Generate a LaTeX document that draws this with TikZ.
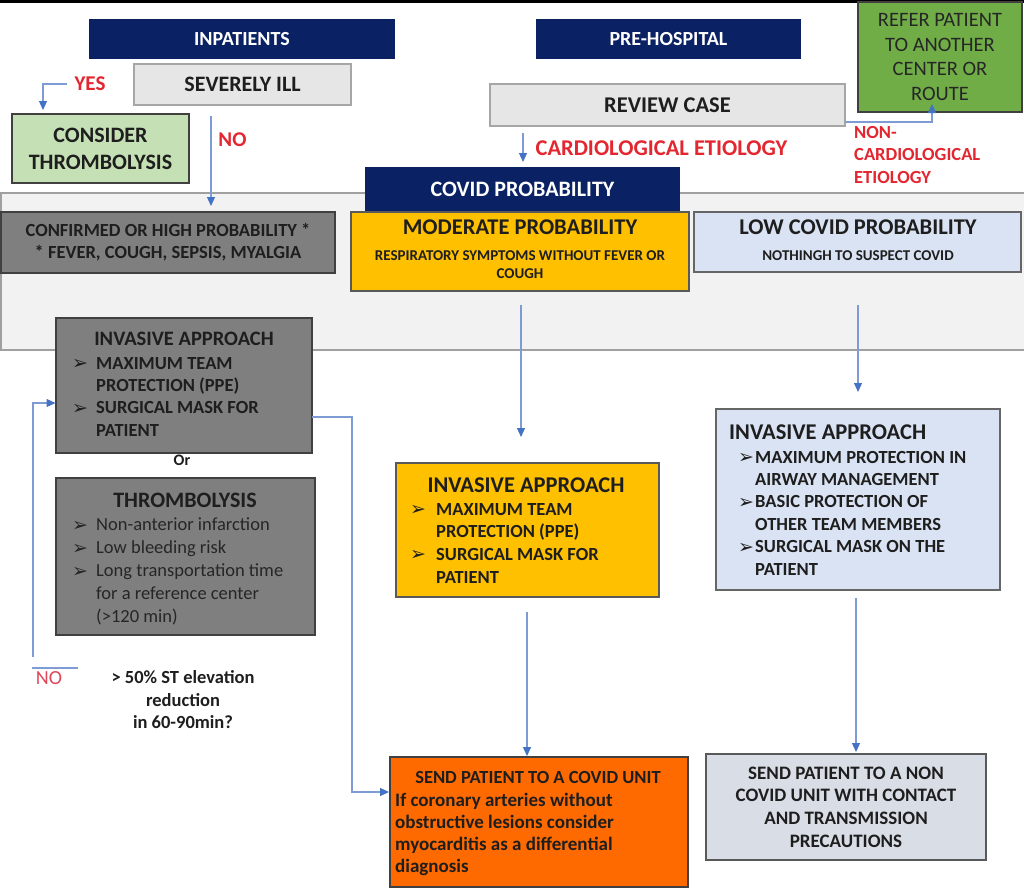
\documentclass[tikz,border=0pt]{standalone}
\usepackage{fontspec}
\setmainfont{Carlito}
\newfontfamily\dejavu{DejaVu Sans}
\usetikzlibrary{arrows.meta}
\definecolor{navy}{HTML}{0A2263}
\definecolor{lgray}{HTML}{E7E6E6}
\definecolor{lgrayb}{HTML}{A6A6A6}
\definecolor{lgreen}{HTML}{C5E0B4}
\definecolor{dgreen}{HTML}{70AD47}
\definecolor{mgray}{HTML}{7F7F7F}
\definecolor{gold}{HTML}{FFC000}
\definecolor{lblue}{HTML}{DAE3F3}
\definecolor{orng}{HTML}{FF6A00}
\definecolor{bgray}{HTML}{D9DDE6}
\definecolor{bandc}{HTML}{F2F2F2}
\definecolor{bandb}{HTML}{A0A0A0}
\definecolor{connc}{HTML}{7F9BD3}
\definecolor{arrc}{HTML}{4472C4}
\definecolor{redtxt}{HTML}{E3262F}
\definecolor{redl}{HTML}{E0475A}
\definecolor{bordr}{HTML}{404040}
\definecolor{txt}{HTML}{1E1E1E}
\newcommand\fs[2]{\fontsize{#1}{#2}\selectfont}
\newcommand\bul{{\dejavu\fontsize{19}{19}\selectfont\raisebox{-0.5pt}{➢}}}
\begin{document}
\begin{tikzpicture}[x=1pt,y=-1pt,
  wh/.style 2 args={minimum width=#1pt, minimum height=#2pt},
  box/.style={draw=bordr, line width=1.1pt, inner sep=0pt, text=txt, align=center},
  navybox/.style={box, fill=navy, draw=navy, text=white},
  ttl/.style={inner sep=0pt, text=txt},
  lst/.style={anchor=base west, inner sep=0pt, text=txt},
  redlab/.style={inner sep=0pt, text=redtxt},
  conn/.style={draw=connc, line width=1.1pt},
  arr/.style={conn, -{Triangle[length=9pt,width=8pt,color=arrc]}}
]
\useasboundingbox (0,0) rectangle (1024,894);
\fill[white] (0,0) rectangle (1024,894);
\draw[line width=2.5pt] (0,1.25) -- (1024,1.25);

% band
\draw[fill=bandc, draw=bandb, line width=1.1pt] (1,193) rectangle (1026,350);

% top area
\node[navybox, wh={304}{38}, font=\fs{20}{24}\bfseries] (inp) at (242,39) {INPATIENTS};
\node[box, fill=lgray, draw=lgrayb, wh={217}{41}, font=\fs{22}{26}\bfseries] (sev) at (242.5,84.5) {SEVERELY ILL};
\node[box, fill=lgreen, wh={177}{69}, font=\fs{22}{27}\bfseries] (cons) at (100.5,148.5) {CONSIDER\\THROMBOLYSIS};
\node[navybox, wh={263}{38}, font=\fs{20}{24}\bfseries] (pre) at (668.5,39) {PRE-HOSPITAL};
\node[box, fill=lgray, draw=lgrayb, wh={355}{42}, font=\fs{22.5}{27}\bfseries] (rev) at (667.5,105) {REVIEW CASE};
\node[box, fill=dgreen, wh={164}{110}, font=\fs{20.5}{24.7}, text=black!85] (refer) at (940,57) {REFER PATIENT\\TO ANOTHER\\CENTER OR\\ROUTE};
\node[navybox, wh={313}{42}, font=\fs{22}{26}\bfseries] (cov) at (522.5,189) {COVID PROBABILITY};

% labels
\node[redlab, font=\fs{21}{25}\bfseries] (yes) at (90,83.5) {YES};
\node[redlab, font=\fs{21}{25}\bfseries] (no1) at (232.5,140) {NO};
\node[redlab, font=\fs{22.5}{26}\bfseries] (card) at (661.5,148.5) {CARDIOLOGICAL ETIOLOGY};
\node[redlab, anchor=base west, font=\fs{18.5}{22.3}\bfseries] (noncard) at (854,138.5)
  {\begin{tabular}[t]{@{}l@{}}NON-\\CARDIOLOGICAL\\ETIOLOGY\end{tabular}};

% probability row
\node[box, fill=mgray, wh={334}{61}, font=\fs{18.5}{22}\bfseries] (conf) at (168,242.5)
  {CONFIRMED OR HIGH PROBABILITY *\\* FEVER, COUGH, SEPSIS, MYALGIA};
\node[box, fill=gold, draw=black!65, wh={338}{79}] (mod) at (520,251.5) {};
\node[ttl, font=\fs{22.5}{26}\bfseries] (modt) at (520,227) {MODERATE PROBABILITY};
\node[ttl, font=\fs{15}{18}\bfseries, align=center] (mods) at (520,265)
  {RESPIRATORY SYMPTOMS WITHOUT FEVER OR\\COUGH};
\node[box, fill=lblue, draw=black!60, wh={327}{60}] (low) at (857.5,242) {};
\node[ttl, font=\fs{22.5}{26}\bfseries] (lowt) at (858,227) {LOW COVID PROBABILITY};
\node[ttl, font=\fs{15}{18}\bfseries] (lows) at (858,256) {NOTHINGH TO SUSPECT COVID};

% gray invasive
\node[box, fill=mgray, wh={256}{135}] (inv1) at (184,385.5) {};
\node[ttl, font=\fs{20.5}{24}\bfseries] (inv1t) at (184,339) {INVASIVE APPROACH};
\node[lst, font=\fs{18.5}{22.4}\bfseries] (inv1l) at (72,369)
  {\begin{tabular}[t]{@{}l@{}l@{}}\makebox[24pt][l]{\bul}&MAXIMUM TEAM\\
   &PROTECTION (PPE)\\ \bul&SURGICAL MASK FOR\\ &PATIENT\end{tabular}};
\node[ttl, font=\fs{16}{18}\bfseries] (ortxt) at (182,460) {Or};

% thrombolysis
\node[box, fill=mgray, wh={259}{157}] (thr) at (185.5,556.5) {};
\node[ttl, font=\fs{22}{26}\bfseries] (thrt) at (185,500) {THROMBOLYSIS};
\node[lst, font=\fs{18.5}{23}, text=black!85] (thrl) at (72,530.5)
  {\begin{tabular}[t]{@{}l@{}l@{}}\makebox[24pt][l]{\bul}&Non-anterior infarction\\
   \bul&Low bleeding risk\\ \bul&Long transportation time\\ &for a reference center\\
   &(>120 min)\end{tabular}};

% yellow invasive
\node[box, fill=gold, draw=black!65, wh={263}{134}] (inv2) at (527.5,530) {};
\node[ttl, font=\fs{22.5}{26}\bfseries] (inv2t) at (526,485) {INVASIVE APPROACH};
\node[lst, font=\fs{18.5}{22.7}\bfseries] (inv2l) at (410,515)
  {\begin{tabular}[t]{@{}l@{}l@{}}\makebox[26pt][l]{\bul}&MAXIMUM TEAM\\
   &PROTECTION (PPE)\\ \bul&SURGICAL MASK FOR\\ &PATIENT\end{tabular}};

% light blue invasive
\node[box, fill=lblue, draw=black!60, wh={284}{181}] (inv3) at (858,499.5) {};
\node[ttl, anchor=base west, font=\fs{22.5}{26}\bfseries] (inv3t) at (729,439) {INVASIVE APPROACH};
\node[lst, font=\fs{18.5}{22.4}\bfseries] (inv3l) at (738,463)
  {\begin{tabular}[t]{@{}l@{}l@{}}\makebox[17pt][l]{\bul}&MAXIMUM PROTECTION IN\\
   &AIRWAY MANAGEMENT\\ \bul&BASIC PROTECTION OF\\ &OTHER TEAM MEMBERS\\
   \bul&SURGICAL MASK ON THE\\ &PATIENT\end{tabular}};

% bottom boxes
\node[box, fill=orng, wh={298}{130}] (covu) at (539,822) {};
\node[ttl, font=\fs{18.5}{22}\bfseries] (covut) at (538,777) {SEND PATIENT TO A COVID UNIT};
\node[lst, font=\fs{19}{22.3}\bfseries] (covul) at (395,806)
  {\begin{tabular}[t]{@{}l@{}}If coronary arteries without\\obstructive lesions consider\\
   myocarditis as a differential\\diagnosis\end{tabular}};
\node[box, fill=bgray, draw=black!65, wh={280}{106}, font=\fs{19}{22.7}\bfseries] (ncov) at (846,807)
  {SEND PATIENT TO A NON\\COVID UNIT WITH CONTACT\\AND TRANSMISSION\\PRECAUTIONS};

% loop text
\node[inner sep=0pt, text=redl, font=\fs{20}{24}] (no2) at (49,678) {NO};
\node[ttl, align=center, font=\fs{18.5}{22.5}\bfseries] (quest) at (183,700)
  {> 50\% ST elevation\\reduction\\in 60-90min?};

% connector coordinates
\coordinate (yesS) at (67,84);   \coordinate (yesE) at (43,110);
\coordinate (noS) at (211,116);  \coordinate (noE) at (211,206);
\coordinate (cardS) at (523,133); \coordinate (cardE) at (523,162);
\coordinate (revR) at (845,122); \coordinate (refB) at (932,104);
\coordinate (modS) at (521,305); \coordinate (modE) at (521,437);
\coordinate (lowS) at (858,305); \coordinate (lowE) at (858,392);
\coordinate (inv2S) at (527,612); \coordinate (inv2E) at (527,756);
\coordinate (inv3S) at (856,598); \coordinate (inv3E) at (856,752);
\coordinate (inv1R) at (312,417); \coordinate (bendA) at (352,417); \coordinate (covuL) at (389,792);
\coordinate (loopS) at (33,657); \coordinate (inv1L) at (55.5,403);
\coordinate (nolA) at (32,668); \coordinate (nolB) at (78,668);

\draw[arr] (yesS) -| (yesE);
\draw[arr] (noS) -- (noE);
\draw[arr] (cardS) -- (cardE);
\draw[arr] (revR) -| (refB);
\draw[arr] (modS) -- (modE);
\draw[arr] (lowS) -- (lowE);
\draw[arr] (inv2S) -- (inv2E);
\draw[arr] (inv3S) -- (inv3E);
\draw[arr] (inv1R) -- (bendA) |- (covuL);
\draw[arr] (loopS) |- (inv1L);
\draw[conn] (nolA) -- (nolB);
\end{tikzpicture}
\end{document}
